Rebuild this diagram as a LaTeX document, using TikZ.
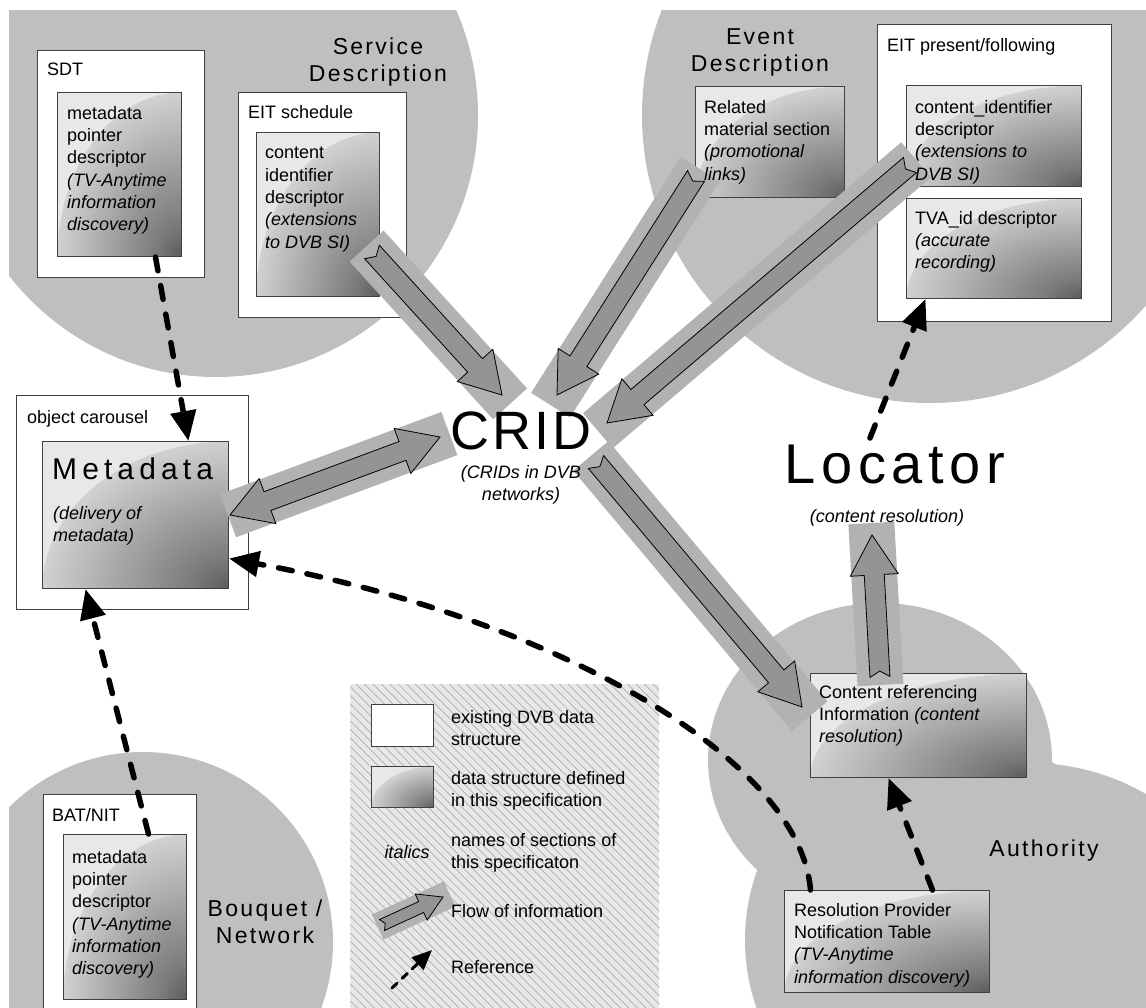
\documentclass[tikz,border=0pt]{standalone}
\usepackage{fontspec}
\setmainfont{Liberation Sans}
\usetikzlibrary{calc,arrows.meta,patterns.meta}

\pgfdeclareradialshading{specshade}{\pgfpoint{0bp}{0bp}}{color(0bp)=(black!64); color(5bp)=(black!52); color(25bp)=(black!18); color(50bp)=(black!18)}

% flow of information: [scale]{tail}{tip}
\newcommand{\flowarrow}[3][1]{%
  \draw[flowband, line width=#1*46pt] ($(#2)!-#1*8pt!(#3)$) -- ($(#3)!-#1*12pt!(#2)$);
  \coordinate (fh) at ($(#3)!#1*40pt!(#2)$);
  \draw[flowhead] ($(#2)!#1*10pt!90:(#3)$) -- ($(fh)!#1*10pt!90:(#3)$) -- ($(fh)!#1*24pt!90:(#3)$) -- (#3)
    -- ($(fh)!#1*24pt!-90:(#3)$) -- ($(fh)!#1*10pt!-90:(#3)$) -- ($(#2)!#1*10pt!-90:(#3)$) -- ($(#2)!#1*6pt!(#3)$) -- cycle;
}
% flow in both directions
\newcommand{\flowboth}[2]{%
  \draw[flowband] ($(#1)!-2pt!(#2)$) -- ($(#2)!-10pt!(#1)$);
  \coordinate (fha) at ($(#1)!40pt!(#2)$);
  \coordinate (fhb) at ($(#2)!40pt!(#1)$);
  \draw[flowhead] (#1) -- ($(fha)!24pt!90:(#2)$) -- ($(fha)!10pt!90:(#2)$) -- ($(fhb)!10pt!90:(#2)$) -- ($(fhb)!24pt!90:(#2)$) -- (#2)
    -- ($(fhb)!24pt!-90:(#2)$) -- ($(fhb)!10pt!-90:(#2)$) -- ($(fha)!10pt!-90:(#2)$) -- ($(fha)!24pt!-90:(#2)$) -- cycle;
}

\begin{document}
\begin{tikzpicture}[x=1pt, y=-1pt]
  \tikzstyle{blob} = [fill=black!25]
  \tikzstyle{dvbbox} = [draw=black!75, fill=white, line width=1pt, inner sep=0pt, anchor=north west]
  \tikzstyle{specbox} = [dvbbox, fill=black!9, path picture={
      \shade[shading=specshade] let \p1 = ($(path picture bounding box.north east)-(path picture bounding box.south west)$)
        in (path picture bounding box.south east) ellipse [x radius=\x1, y radius=\y1];}]
  \tikzstyle{txt} = [inner sep=0pt, anchor=north west, align=left, font=\fontsize{18}{22.3}\selectfont]
  \tikzstyle{areatitle} = [inner sep=0pt, align=center, font=\fontsize{23}{27}\selectfont\addfontfeature{LetterSpace=10}]
  \tikzstyle{flowband} = [draw=black!30, line width=46pt]
  \tikzstyle{flowhead} = [draw=black, fill=black!42, line width=0.8pt, line join=miter]
  \tikzstyle{refarrow} = [line width=5.5pt, line cap=round, dash pattern=on 14pt off 15pt, -{Triangle[length=30pt,width=25pt]}]

  \useasboundingbox (0,0) rectangle (1146,1007);

  % areas
  \begin{scope}
    \clip (9,10) rectangle (1146,1007);
    \fill[blob] (216,115) circle (262);
    \fill[blob] (930,115) circle (288);
    \fill[blob] (143,942) circle (190);
    \fill[blob] (880,760) ellipse [x radius=172, y radius=157];
    \fill[blob] (1030,995) circle (232);
    \fill[blob] (950,940) circle (205);
  \end{scope}

  % legend
  \node[anchor=north west, inner sep=0pt, minimum width=309pt, minimum height=330pt, preaction={fill=black!9},
    pattern={Lines[angle=-45, distance=6pt, line width=0.7pt]}, pattern color=black!32] (legend) at (350,684) {};
  \node[dvbbox, minimum width=62pt, minimum height=42pt] (legwhite) at (371,704) {};
  \node[specbox, minimum width=62pt, minimum height=41pt] (legspec) at (371,766) {};

  % boxes
  \node[dvbbox, minimum width=167pt, minimum height=227pt] (sdt) at (37,50) {};
  \node[specbox, minimum width=124pt, minimum height=164pt] (sdtdesc) at (57,92) {};
  \node[dvbbox, minimum width=168pt, minimum height=225pt] (eitsched) at (238,92) {};
  \node[specbox, minimum width=123pt, minimum height=164pt] (schedcid) at (256,132) {};
  \node[specbox, minimum width=149pt, minimum height=111pt] (related) at (695,86) {};
  \node[dvbbox, minimum width=234pt, minimum height=297pt] (eitpf) at (877,24) {};
  \node[specbox, minimum width=175pt, minimum height=101pt] (pfcid) at (906,85) {};
  \node[specbox, minimum width=175pt, minimum height=100pt] (tvaid) at (906,198) {};
  \node[dvbbox, minimum width=232pt, minimum height=214pt] (carousel) at (16,395) {};
  \node[specbox, minimum width=186pt, minimum height=147pt] (meta) at (42,441) {};
  \node[specbox, minimum width=216pt, minimum height=104pt] (crinfo) at (810,673) {};
  \node[specbox, minimum width=205pt, minimum height=102pt] (rpnt) at (784,890) {};
  \node[dvbbox, minimum width=153pt, minimum height=240pt] (batnit) at (43,794) {};
  \node[specbox, minimum width=123pt, minimum height=165pt] (batdesc) at (63,834) {};

  % flow of information
  \coordinate (schedout) at (372,252);
  \coordinate (cridnw) at (502,395);
  \coordinate (relout) at (696,176);
  \coordinate (cridn) at (557,395);
  \coordinate (pfout) at (910,165);
  \coordinate (cridne) at (607,423);
  \coordinate (cridse) at (596,462);
  \coordinate (crin) at (802,707);
  \coordinate (metae) at (230,515);
  \coordinate (cridw) at (440,437);
  \coordinate (crout) at (880,677);
  \coordinate (locs) at (872,535);
  \coordinate (legflowa) at (382,925);
  \coordinate (legflowb) at (443,897);
  \flowarrow{schedout}{cridnw}
  \flowarrow{relout}{cridn}
  \flowarrow{pfout}{cridne}
  \flowarrow{cridse}{crin}
  \flowarrow{crout}{locs}
  \flowboth{metae}{cridw}
  \flowarrow[0.6]{legflowa}{legflowb}

  % texts
  \node[txt] (sdtname) at (47,63) {SDT};
  \node[txt] (sdttext) at (67,106) {metadata\\pointer\\descriptor\\\textit{(TV-Anytime}\\\textit{information}\\\textit{discovery)}};
  \node[txt] (eitschedname) at (248,105) {EIT schedule};
  \node[txt] (schedtext) at (265,147) {content\\identifier\\descriptor\\\textit{(extensions}\\\textit{to DVB SI)}};
  \node[txt] (reltext) at (704,100) {Related\\material section\\\textit{(promotional}\\\textit{links)}};
  \node[txt] (eitpfname) at (887,38) {EIT present/following};
  \node[txt] (pfcidtext) at (915,100) {content\_identifier\\descriptor\\\textit{(extensions to}\\\textit{DVB SI)}};
  \node[txt] (tvatext) at (915,211) {TVA\_id descriptor\\\textit{(accurate}\\\textit{recording)}};
  \node[txt] (carouselname) at (27,410) {object carousel};
  \node[txt, font=\fontsize{30}{36}\selectfont\addfontfeature{LetterSpace=17}] (metaname) at (52,458) {Metadata};
  \node[txt] (metatext) at (53,506) {\textit{(delivery of}\\\textit{metadata)}};
  \node[txt] (critext) at (819,685) {Content referencing\\Information \textit{(content}\\\textit{resolution)}};
  \node[txt] (rpnttext) at (794,903) {Resolution Provider\\Notification Table\\\textit{(TV-Anytime}\\\textit{information discovery)}};
  \node[txt] (batname) at (52,808) {BAT/NIT};
  \node[txt] (battext) at (72,850) {metadata\\pointer\\descriptor\\\textit{(TV-Anytime}\\\textit{information}\\\textit{discovery)}};

  \node[areatitle, anchor=north] (sdtitle) at (378,38) {Service\\Description};
  \node[areatitle, anchor=north] (edtitle) at (760,28) {Event\\Description};
  \node[areatitle, anchor=base] (authtitle) at (1044,856) {Authority};
  \node[areatitle, anchor=north] (bntitle) at (265,900) {Bouquet /\\Network};

  \node[inner sep=0pt, anchor=north, font=\fontsize{54}{60}\selectfont\addfontfeature{LetterSpace=6}] (crid) at (521,412) {CRID};
  \node[txt, anchor=north, align=center] (cridtext) at (521,465) {\textit{(CRIDs in DVB}\\\textit{networks)}};
  \node[inner sep=0pt, anchor=north, font=\fontsize{56}{62}\selectfont\addfontfeature{LetterSpace=10}] (locator) at (895,445) {Locator};
  \node[txt, anchor=north] (loctext) at (887,509) {\textit{(content resolution)}};

  % legend texts
  \node[txt] (legwhitetext) at (451,710) {existing DVB data\\structure};
  \node[txt] (legspectext) at (451,771) {data structure defined\\in this specification};
  \node[txt, anchor=center, font=\fontsize{18}{22.3}\selectfont\itshape] (legital) at (407,852) {italics};
  \node[txt] (legitaltext) at (451,833) {names of sections of\\this specificaton};
  \node[txt] (legflowtext) at (451,904) {Flow of information};
  \node[txt] (legreftext) at (451,960) {Reference};

  % references
  \draw[refarrow] ([xshift=36pt]sdtdesc.south) -- ([xshift=53pt]meta.north);
  \draw[refarrow] ([xshift=23.5pt]batdesc.north) -- ([xshift=-50pt]meta.south);
  \draw[refarrow] ([xshift=-76.5pt]rpnt.north) .. controls (800,760) and (560,620) .. ([yshift=-43.5pt]meta.east);
  \draw[refarrow] ([xshift=45.5pt]rpnt.north) -- ([xshift=-30pt]crinfo.south);
  \draw[refarrow] ([xshift=-25pt,yshift=7pt]locator.north) -- ([xshift=-68.5pt]tvaid.south);
  \coordinate (legrefa) at (392,988);
  \coordinate (legrefb) at (432,950);
  \draw[refarrow, line width=3pt, dash pattern=on 7pt off 7pt, -{Triangle[length=20pt,width=17pt]}] (legrefa) -- (legrefb);
\end{tikzpicture}
\end{document}
